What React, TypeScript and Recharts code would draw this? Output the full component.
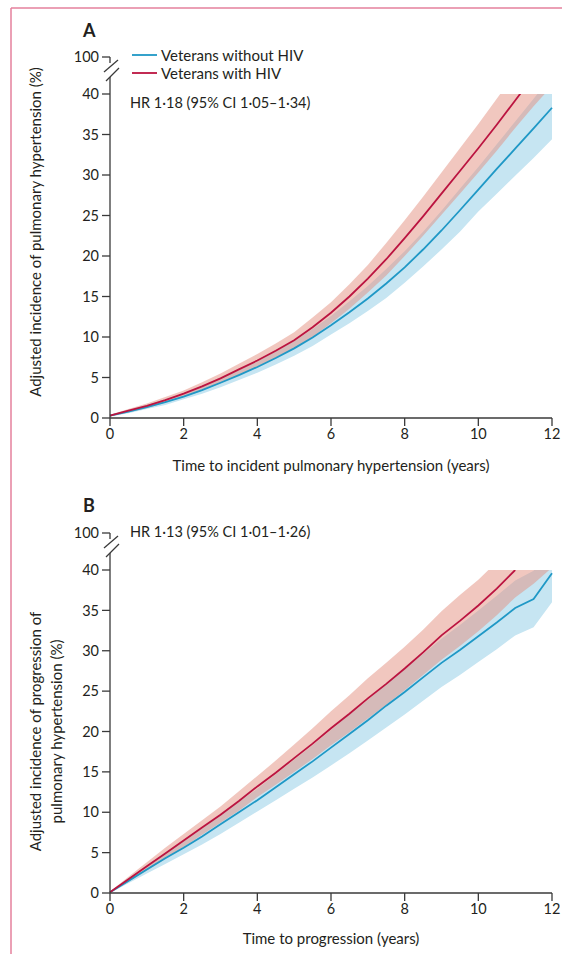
import React from 'react';
import { ComposedChart, Line, Area, XAxis, YAxis, Legend } from 'recharts';

// ---------- data ----------
const years = [0, 0.5, 1, 1.5, 2, 2.5, 3, 3.5, 4, 4.5, 5, 5.5, 6, 6.5, 7, 7.5, 8, 8.5, 9, 9.5, 10, 10.5, 11, 11.5, 12];

// Panel A – incident pulmonary hypertension
const blueMidA = [0.3, 0.8, 1.35, 1.95, 2.65, 3.45, 4.35, 5.3, 6.3, 7.4, 8.6, 9.95, 11.45, 13.05, 14.75, 16.6, 18.6, 20.8, 23.15, 25.65, 28.2, 30.75, 33.25, 35.75, 38.3];
const blueLoA = [0.2, 0.6, 1.1, 1.6, 2.3, 3.0, 3.8, 4.7, 5.6, 6.6, 7.7, 8.9, 10.3, 11.7, 13.2, 14.8, 16.7, 18.7, 20.8, 23.0, 25.5, 27.7, 29.9, 32.1, 34.4];
const blueHiA = [0.4, 1.0, 1.6, 2.3, 3.0, 3.9, 4.9, 5.9, 7.0, 8.2, 9.5, 11.0, 12.6, 14.4, 16.3, 18.4, 20.6, 23.0, 25.6, 28.3, 31.0, 33.8, 36.6, 39.4, 42.3];
const redMidA = [0.3, 0.9, 1.5, 2.2, 3.0, 3.9, 4.9, 6.0, 7.1, 8.3, 9.6, 11.2, 13.0, 15.0, 17.2, 19.6, 22.2, 24.9, 27.7, 30.5, 33.3, 36.2, 39.2, 42.2, null];
const redLoA = [0.2, 0.7, 1.2, 1.9, 2.6, 3.4, 4.3, 5.3, 6.3, 7.4, 8.6, 10.0, 11.7, 13.5, 15.5, 17.6, 20.0, 22.5, 25.1, 27.7, 30.3, 33.0, 35.8, 38.5, 41.0];
const redHiA = [0.4, 1.1, 1.8, 2.6, 3.4, 4.4, 5.5, 6.7, 7.9, 9.2, 10.6, 12.4, 14.3, 16.5, 18.9, 21.6, 24.4, 27.3, 30.3, 33.3, 36.3, 39.4, 42.6, 45.8, 48.0];

// Panel B – progression of pulmonary hypertension
const blueMidB = [0.1, 1.5, 2.9, 4.3, 5.6, 7.0, 8.5, 10.0, 11.5, 13.1, 14.7, 16.3, 18.0, 19.7, 21.4, 23.2, 24.9, 26.7, 28.5, 30.1, 31.8, 33.5, 35.3, 36.4, 39.6];
const blueLoB = [0.0, 1.2, 2.4, 3.6, 4.8, 6.0, 7.3, 8.7, 10.1, 11.5, 12.9, 14.3, 15.8, 17.3, 18.9, 20.5, 22.1, 23.8, 25.5, 27.0, 28.6, 30.2, 31.9, 32.9, 36.0];
const blueHiB = [0.2, 1.8, 3.4, 5.0, 6.4, 8.0, 9.7, 11.3, 12.9, 14.7, 16.5, 18.3, 20.2, 22.1, 23.9, 25.9, 27.7, 29.6, 31.5, 33.2, 35.0, 36.8, 38.7, 39.9, 43.2];
const redMidB = [0.1, 1.7, 3.3, 4.9, 6.5, 8.1, 9.7, 11.4, 13.2, 14.9, 16.7, 18.5, 20.4, 22.2, 24.1, 25.9, 27.8, 29.8, 31.9, 33.7, 35.6, 37.7, 40.0, null, null];
const redLoB = [0.0, 1.4, 2.8, 4.2, 5.7, 7.2, 8.7, 10.2, 11.9, 13.4, 15.0, 16.6, 18.3, 19.9, 21.6, 23.3, 25.1, 27.0, 28.9, 30.6, 32.4, 34.4, 36.6, 38.3, 40.3];
const redHiB = [0.2, 2.0, 3.8, 5.6, 7.3, 9.0, 10.7, 12.6, 14.5, 16.4, 18.4, 20.4, 22.5, 24.5, 26.6, 28.5, 30.5, 32.6, 34.9, 36.9, 38.8, 41.0, 43.4, 45.0, 47.0];

const yTicks = [0, 5, 10, 15, 20, 25, 30, 35, 40];
const xTicks = [0, 2, 4, 6, 8, 10, 12];
const brokenTopLabel = '100';

const seriesNames = ['Veterans without HIV', 'Veterans with HIV'];

// ---------- styles ----------
const FONT = 'Lato, "Open Sans", "DejaVu Sans", sans-serif';
const TEXT = '#231f20';
const AXIS = '#3a3a3a';
const BLUE = '#1f98c6';
const RED = '#bb1440';
const BLUE_BAND = '#c6e5f2';
const RED_BAND = '#e3907f';
const FRAME = '#e4809c';
const TICK_SIZE = 8;
const TICK_MARGIN = 3;

function buildRows(bm, bl, bh, rm, rl, rh) {
  return years.map((t, i) => ({
    t,
    blue: bm[i],
    red: rm[i],
    blueBand: [bl[i], bh[i]],
    redBand: [rl[i], rh[i]],
  }));
}

const rowsA = buildRows(blueMidA, blueLoA, blueHiA, redMidA, redLoA, redHiA);
const rowsB = buildRows(blueMidB, blueLoB, blueHiB, redMidB, redLoB, redHiB);

function YTick(props: any) {
  const { x, y, payload } = props;
  const ax = x + TICK_SIZE + TICK_MARGIN;
  const label = (
    <text x={x} y={y} dy="0.36em" textAnchor="end" fill={TEXT} fontSize={14.5} fontFamily={FONT}>
      {payload.value}
    </text>
  );
  if (payload.value !== yTicks[yTicks.length - 1]) return label;
  const ls = { stroke: AXIS, strokeWidth: 1.3 };
  return (
    <g>
      {label}
      <line x1={ax} y1={y} x2={ax} y2={y - 17} {...ls} />
      <line x1={ax + 9} y1={y - 26} x2={ax - 4} y2={y - 13} {...ls} />
      <line x1={ax + 8} y1={y - 34} x2={ax - 6} y2={y - 22} {...ls} />
      <line x1={ax} y1={y - 37} x2={ax} y2={y - 31} {...ls} />
      <line x1={ax - TICK_SIZE} y1={y - 37} x2={ax} y2={y - 37} {...ls} />
      <text x={x} y={y - 37} dy="0.36em" textAnchor="end" fill={TEXT} fontSize={14.5} fontFamily={FONT}>
        {brokenTopLabel}
      </text>
    </g>
  );
}

function XTitle(props: any) {
  const { viewBox, text, dy } = props;
  const vb = viewBox || { x: 0, y: 0, width: 0, height: 0 };
  return (
    <text x={vb.x + vb.width / 2} y={vb.y + dy} textAnchor="middle" dominantBaseline="central" fill={TEXT} fontSize={15} fontFamily={FONT}>
      {text}
    </text>
  );
}

function YTitle(props: any) {
  const { viewBox, lines, dy } = props;
  const vb = viewBox || { x: 0, y: 0, width: 0, height: 0 };
  const cy = vb.y + vb.height / 2 + dy;
  return (
    <g>
      {lines.map((ln: string, i: number) => {
        const cx = 35 + i * 21;
        return (
          <text key={i} x={cx} y={cy} transform={`rotate(-90, ${cx}, ${cy})`} textAnchor="middle" dominantBaseline="central" fill={TEXT} fontSize={15} fontFamily={FONT}>
            {ln}
          </text>
        );
      })}
    </g>
  );
}

function LegendContent(props: any) {
  const { payload } = props;
  const items = (payload || []).filter((p: any) => p.type !== 'none');
  return (
    <div style={{ fontFamily: FONT, fontSize: 15, color: TEXT }}>
      {items.map((p: any, i: number) => (
        <div key={i} style={{ display: 'flex', alignItems: 'center', height: 18 }}>
          <svg width={31} height={18} style={{ display: 'block' }}>
            <line x1={2} y1={9} x2={27} y2={9} stroke={p.color} strokeWidth={1.8} />
          </svg>
          <span style={{ whiteSpace: 'nowrap', lineHeight: '18px' }}>{p.value}</span>
        </div>
      ))}
    </div>
  );
}

function Panel(props: any) {
  const { rows, height, xAxisHeight, xTitle, xTitleDy, yLines, yDy, legend } = props;
  return (
    <ComposedChart width={563} height={height} data={rows} margin={{ top: 94, right: 11, left: 70, bottom: 0 }}>
      <XAxis
        dataKey="t"
        type="number"
        domain={[0, 12]}
        ticks={xTicks}
        interval={0}
        height={xAxisHeight}
        tickSize={TICK_SIZE}
        tickMargin={TICK_MARGIN}
        stroke={AXIS}
        strokeWidth={1.3}
        tick={{ fill: TEXT, fontSize: 14.5, fontFamily: FONT }}
        label={<XTitle text={xTitle} dy={xTitleDy} />}
      />
      <YAxis
        type="number"
        domain={[0, 40]}
        ticks={yTicks}
        interval={0}
        allowDataOverflow
        width={40}
        tickSize={TICK_SIZE}
        tickMargin={TICK_MARGIN}
        stroke={AXIS}
        strokeWidth={1.3}
        tick={<YTick />}
        label={<YTitle lines={yLines} dy={yDy} />}
      />
      <Area dataKey="blueBand" type="linear" stroke="none" fill={BLUE_BAND} fillOpacity={1} isAnimationActive={false} legendType="none" />
      <Area dataKey="redBand" type="linear" stroke="none" fill={RED_BAND} fillOpacity={0.5} isAnimationActive={false} legendType="none" />
      <Line dataKey="blue" name={seriesNames[0]} type="linear" stroke={BLUE} strokeWidth={1.8} dot={false} isAnimationActive={false} />
      <Line dataKey="red" name={seriesNames[1]} type="linear" stroke={RED} strokeWidth={1.8} dot={false} isAnimationActive={false} />
      {legend && (
        <Legend
          layout="vertical"
          align="center"
          verticalAlign="middle"
          itemSorter="dataKey"
          content={<LegendContent />}
          wrapperStyle={{ position: 'absolute', left: 130, top: 46, width: 260, height: 40 }}
        />
      )}
    </ComposedChart>
  );
}

export default function App() {
  return (
    <div style={{ position: 'absolute', left: 0, top: 0, width: 563, height: 954, background: '#fff', overflow: 'hidden' }}>
      <div style={{ position: 'absolute', left: 0, top: 0 }}>
        <Panel
          rows={rowsA}
          height={476}
          xAxisHeight={58}
          xTitle="Time to incident pulmonary hypertension (years)"
          xTitleDy={47}
          yLines={['Adjusted incidence of pulmonary hypertension (%)']}
          yDy={-24}
          legend
        />
      </div>
      <div style={{ position: 'absolute', left: 0, top: 476 }}>
        <Panel
          rows={rowsB}
          height={478}
          xAxisHeight={61}
          xTitle="Time to progression (years)"
          xTitleDy={45}
          yLines={['Adjusted incidence of progression of', 'pulmonary hypertension (%)']}
          yDy={0}
        />
      </div>
      <svg width={563} height={954} style={{ position: 'absolute', left: 0, top: 0, pointerEvents: 'none' }}>
        <line x1={11} y1={8} x2={562} y2={8} stroke={FRAME} strokeWidth={1.5} />
        <line x1={11} y1={8} x2={11} y2={954} stroke={FRAME} strokeWidth={1.5} />
        <text x={83} y={30} dominantBaseline="central" fontSize={18} fontWeight="bold" fill={TEXT} fontFamily={FONT}>A</text>
        <text x={83} y={505} dominantBaseline="central" fontSize={18} fontWeight="bold" fill={TEXT} fontFamily={FONT}>B</text>
        <text x={130} y={102} dominantBaseline="central" fontSize={14.5} fill={TEXT} fontFamily={FONT}>HR 1·18 (95% CI 1·05–1·34)</text>
        <text x={130} y={531} dominantBaseline="central" fontSize={14.5} fill={TEXT} fontFamily={FONT}>HR 1·13 (95% CI 1·01–1·26)</text>
      </svg>
    </div>
  );
}
